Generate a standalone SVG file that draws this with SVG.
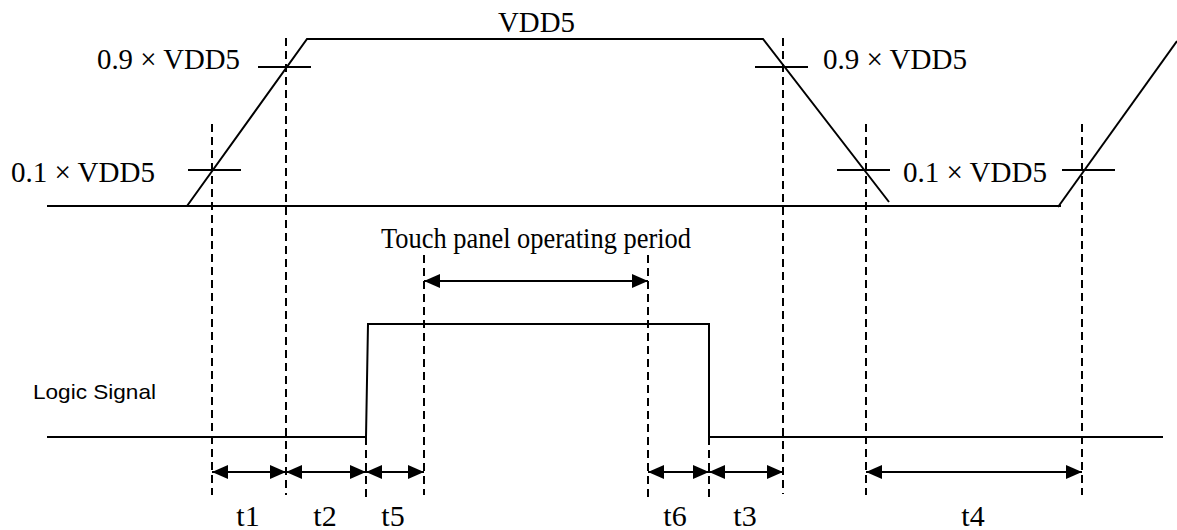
<svg xmlns="http://www.w3.org/2000/svg" width="1177" height="530" viewBox="0 0 1177 530">
<defs>
<style>
.w{fill:none;stroke:#000;stroke-width:2}
.d{fill:none;stroke:#000;stroke-width:2;stroke-dasharray:8 5}
.a{fill:none;stroke:#000;stroke-width:2;marker-start:url(#ah);marker-end:url(#ah)}
.s{font-family:"Liberation Serif",serif;font-size:29px;fill:#000}
.t{font-family:"Liberation Serif",serif;font-size:30px;fill:#000}
.l{font-family:"Liberation Sans",sans-serif;font-size:21px;fill:#000}
</style>
<marker id="ah" viewBox="0 0 16 14" refX="16" refY="7" markerWidth="16" markerHeight="14" markerUnits="userSpaceOnUse" orient="auto-start-reverse">
<path d="M0,0 L16,7 L0,14 Z" fill="#000"/>
</marker>
</defs>
<rect width="1177" height="530" fill="#fff"/>
<g id="vdd5-waveform">
<polyline class="w" points="47,206 1061,206"/>
<polyline class="w" points="187,206 307,39 763,39 889,202"/>
<polyline class="w" points="1058,207 1177,41"/>
<line class="w" x1="258" y1="67" x2="311" y2="67"/>
<line class="w" x1="188" y1="170" x2="241" y2="170"/>
<line class="w" x1="755" y1="67" x2="808" y2="67"/>
<line class="w" x1="837" y1="170" x2="890" y2="170"/>
<line class="w" x1="1062" y1="170" x2="1115" y2="170"/>
<text class="s" x="498" y="32" textLength="77" lengthAdjust="spacingAndGlyphs">VDD5</text>
<text class="s" x="97" y="69" textLength="143" lengthAdjust="spacingAndGlyphs">0.9 × VDD5</text>
<text class="s" x="11" y="182" textLength="144" lengthAdjust="spacingAndGlyphs">0.1 × VDD5</text>
<text class="s" x="823" y="69" textLength="144" lengthAdjust="spacingAndGlyphs">0.9 × VDD5</text>
<text class="s" x="903" y="182" textLength="144" lengthAdjust="spacingAndGlyphs">0.1 × VDD5</text>
</g>
<g id="logic-signal">
<polyline class="w" points="47,437 366,437 368,324 709,324 709,437 1163,437"/>
<text class="l" x="33" y="399" textLength="123" lengthAdjust="spacingAndGlyphs">Logic  Signal</text>
</g>
<g id="touch-panel-label">
<text class="s" x="381" y="248" textLength="310" lengthAdjust="spacingAndGlyphs">Touch panel operating period</text>
</g>
<g id="guides">
<line class="d" x1="212" y1="124" x2="212" y2="495"/>
<line class="d" x1="286" y1="38" x2="286" y2="495"/>
<line class="d" x1="366" y1="437" x2="366" y2="497"/>
<line class="d" x1="424" y1="255" x2="424" y2="495"/>
<line class="d" x1="648" y1="255" x2="648" y2="500"/>
<line class="d" x1="709" y1="437" x2="709" y2="500"/>
<line class="d" x1="783" y1="38" x2="783" y2="494"/>
<line class="d" x1="866" y1="124" x2="866" y2="495"/>
<line class="d" x1="1082" y1="124" x2="1082" y2="495"/>
</g>
<g id="connectors">
<line class="a" x1="212" y1="472" x2="286" y2="472"/>
<line class="a" x1="286" y1="472" x2="366" y2="472"/>
<line class="a" x1="366" y1="472" x2="424" y2="472"/>
<line class="a" x1="648" y1="472" x2="709" y2="472"/>
<line class="a" x1="709" y1="472" x2="783" y2="472"/>
<line class="a" x1="866" y1="472" x2="1082" y2="472"/>
<line class="a" x1="424" y1="281" x2="648" y2="281"/>
</g>
<g id="interval-labels">
<text class="t" x="248" y="526" text-anchor="middle">t1</text>
<text class="t" x="325" y="526" text-anchor="middle">t2</text>
<text class="t" x="393" y="526" text-anchor="middle">t5</text>
<text class="t" x="675" y="526" text-anchor="middle">t6</text>
<text class="t" x="745" y="526" text-anchor="middle">t3</text>
<text class="t" x="973" y="526" text-anchor="middle">t4</text>
</g>
</svg>
